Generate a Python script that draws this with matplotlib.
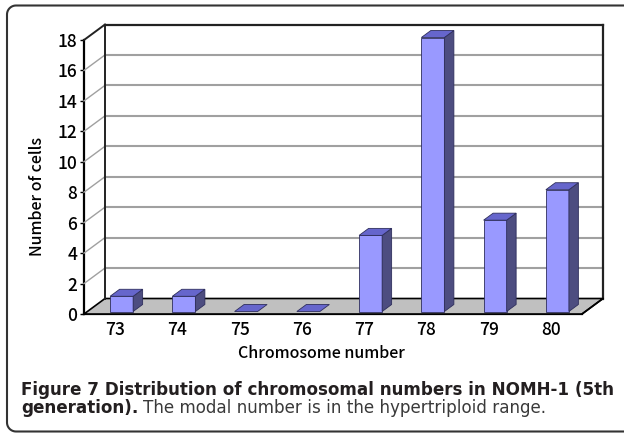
import numpy as np
import matplotlib
matplotlib.use("Agg")
import matplotlib.pyplot as plt
from matplotlib.patches import Polygon
from matplotlib.lines import Line2D
from matplotlib.transforms import IdentityTransform

# data
chromosomes = ["73", "74", "75", "76", "77", "78", "79", "80"]
cells = [1, 1, 0, 0, 5, 18, 6, 8]
yticks = list(range(0, 19, 2))

W, H = 624, 433
fig = plt.figure(figsize=(W / 100, H / 100), dpi=100)

# front plane of the pseudo-3d chart
ax = fig.add_axes([84 / W, (H - 314) / H, (582 - 84) / W, (314 - 40) / H])
ax.set_xlim(-0.5, len(cells) - 0.5)
ax.set_ylim(0, 18)
ax.patch.set_visible(False)
for s in ["top", "right"]:
    ax.spines[s].set_visible(False)
ax.spines["left"].set_linewidth(1.6)
ax.spines["bottom"].set_linewidth(1.6)
ax.spines["left"].set_zorder(20)
ax.spines["bottom"].set_zorder(20)

chart_font = "Noto Sans CJK JP"
ax.set_yticks(yticks)
ax.set_yticklabels([str(v) for v in yticks], fontsize=12.5, family=chart_font,
                   fontweight="medium", va="center_baseline")
ax.tick_params(axis="y", direction="out", length=3, width=1, pad=2)
ax.set_xticks(range(len(chromosomes)))
ax.set_xticklabels(chromosomes, fontsize=12.5, family=chart_font,
                   fontweight="medium")
ax.tick_params(axis="x", which="major", length=0, pad=5)
ax.set_xticks(np.arange(0.5, len(chromosomes) - 0.5, 1), minor=True)
ax.tick_params(axis="x", which="minor", direction="in", length=3, width=1)

DEPTH = 15.5        # pixels of depth (vertical)
SLANT = 21 / 15.5   # horizontal pixels per vertical pixel of depth


def P(x, y, d):
    px, py = ax.transData.transform((x, y))
    return (px + d * SLANT, py + d)


def poly(pts, **kw):
    fig.add_artist(Polygon(pts, closed=True, transform=IdentityTransform(), **kw))


def line(p0, p1, **kw):
    fig.add_artist(Line2D([p0[0], p1[0]], [p0[1], p1[1]],
                          transform=IdentityTransform(), **kw))


x0, x1 = -0.5, len(cells) - 0.5

# floor
poly([P(x0, 0, 0), P(x1, 0, 0), P(x1, 0, DEPTH), P(x0, 0, DEPTH)],
     facecolor="#c0c0c0", edgecolor="black", linewidth=1.2, zorder=1)

# grid lines: left wall diagonals + back wall horizontals
for v in yticks[1:-1]:
    line(P(x0, v, 0), P(x0, v, DEPTH), color="#a0a0a0", lw=1, zorder=1)
    line(P(x0, v, DEPTH), P(x1, v, DEPTH), color="#a0a0a0", lw=1.5, zorder=1)

# back wall frame
line(P(x0, 0, DEPTH), P(x0, 18, DEPTH), color="#222222", lw=1.4, zorder=2)
line(P(x0, 18, DEPTH), P(x1, 18, DEPTH), color="#222222", lw=1.6, zorder=2)
line(P(x1, 18, DEPTH), P(x1, 0, DEPTH), color="#222222", lw=1.6, zorder=2)
line(P(x0, 18, 0), P(x0, 18, DEPTH), color="#222222", lw=1.4, zorder=2)
line(P(x1, 0, 0), P(x1, 0, DEPTH), color="black", lw=1.2, zorder=2)

# bars
bw = 0.37
off = 0.05
d0, d1 = 2.5, 9.5
for i, v in enumerate(cells):
    a = i + off - bw / 2
    b = a + bw
    kw = dict(edgecolor="#2e2e5c", linewidth=0.6, zorder=5)
    if v > 0:
        poly([P(a, 0, d0), P(b, 0, d0), P(b, v, d0), P(a, v, d0)],
             facecolor="#9999ff", **kw)
        poly([P(b, 0, d0), P(b, 0, d1), P(b, v, d1), P(b, v, d0)],
             facecolor="#4d4d80", **kw)
    poly([P(a, v, d0), P(b, v, d0), P(b, v, d1), P(a, v, d1)],
         facecolor="#6666cc", **kw)

# axis titles
fig.text(37 / W, 1 - 197 / H, "Number of cells", rotation=90, ha="center",
         va="center", fontsize=11.5, family=chart_font, fontweight="medium")
fig.text(321 / W, 1 - 354 / H, "Chromosome number", ha="center", va="center",
         fontsize=11.5, family=chart_font, fontweight="medium")

# rounded frame: only left, top and bottom are in the picture (open line)
rad, left, top, bottom = 9, 7, H - 5.5, 1.5
a_top = np.linspace(np.pi / 2, np.pi, 12)
a_bot = np.linspace(np.pi, 1.5 * np.pi, 12)
fx = np.concatenate([[W + 10], left + rad + rad * np.cos(a_top),
                     left + rad + rad * np.cos(a_bot), [W + 10]])
fy = np.concatenate([[top], top - rad + rad * np.sin(a_top),
                     bottom + rad + rad * np.sin(a_bot), [bottom]])
fig.add_artist(Line2D(fx, fy, transform=IdentityTransform(), color="#333333",
                      lw=1.5))

# caption, first line fitted to the reference width (~590 px)
cap_font = ["DejaVu Sans"]
r = fig.canvas.get_renderer()
t1 = fig.text(21 / W, 1 - 395 / H,
              "Figure 7 Distribution of chromosomal numbers in NOMH-1 (5th",
              fontsize=11, fontweight="bold", family=cap_font, color="#231f20",
              va="baseline")
w1 = t1.get_window_extent(renderer=r).width
cap_size = 11 * 591 / w1
t1.set_fontsize(cap_size)
t = fig.text(21 / W, 1 - 413 / H, "generation).", fontsize=cap_size,
             fontweight="bold", family=cap_font, color="#231f20", va="baseline")
bb = t.get_window_extent(renderer=r)
fig.text((bb.x1 + 5) / W, 1 - 413 / H,
         "The modal number is in the hypertriploid range.", fontsize=cap_size,
         family=cap_font, color="#3a3a3a", va="baseline")

fig.savefig("out.png", dpi=100)
